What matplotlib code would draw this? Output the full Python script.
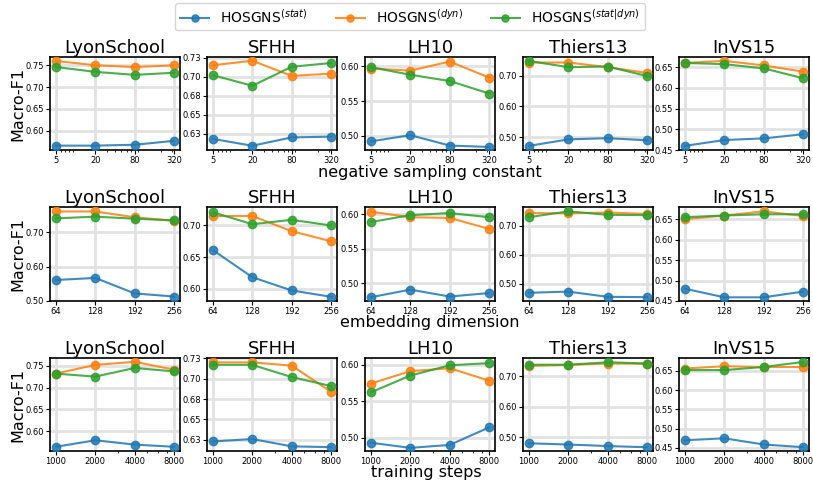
import numpy as np
import matplotlib
matplotlib.use('Agg')
import matplotlib.pyplot as plt
from matplotlib.ticker import NullFormatter

datasets = ['LyonSchool', 'SFHH', 'LH10', 'Thiers13', 'InVS15']
labels = [r'HOSGNS$^{(stat)}$', r'HOSGNS$^{(dyn)}$', r'HOSGNS$^{(stat|dyn)}$']
colors = ['#1f77b4', '#ff7f0e', '#2ca02c']

# x values for each experiment row
neg_samples = [5, 20, 80, 320]
emb_dims = [64, 128, 192, 256]
train_steps = [1000, 2000, 4000, 8000]
row_xlabels = ['negative sampling constant', 'embedding dimension', 'training steps']

# macro-F1, [stat, dyn, stat|dyn] per dataset
neg_f1 = {
  'LyonSchool': [[0.566, 0.566, 0.568, 0.577], [0.760, 0.750, 0.746, 0.750], [0.746, 0.735, 0.728, 0.733]],
  'SFHH':       [[0.618, 0.609, 0.620, 0.621], [0.715, 0.721, 0.701, 0.704], [0.702, 0.688, 0.713, 0.718]],
  'LH10':       [[0.492, 0.501, 0.486, 0.484], [0.597, 0.594, 0.607, 0.584], [0.599, 0.588, 0.579, 0.561]],
  'Thiers13':   [[0.472, 0.493, 0.497, 0.490], [0.743, 0.743, 0.728, 0.709], [0.748, 0.728, 0.730, 0.699]],
  'InVS15':     [[0.460, 0.474, 0.478, 0.488], [0.660, 0.665, 0.654, 0.639], [0.660, 0.657, 0.647, 0.623]],
}
emb_f1 = {
  'LyonSchool': [[0.561, 0.567, 0.522, 0.513], [0.760, 0.760, 0.743, 0.733], [0.740, 0.745, 0.739, 0.734]],
  'SFHH':       [[0.661, 0.618, 0.597, 0.587], [0.715, 0.715, 0.691, 0.675], [0.721, 0.702, 0.709, 0.700]],
  'LH10':       [[0.480, 0.491, 0.481, 0.486], [0.604, 0.596, 0.595, 0.579], [0.589, 0.599, 0.602, 0.596]],
  'Thiers13':   [[0.469, 0.473, 0.455, 0.454], [0.743, 0.742, 0.745, 0.740], [0.729, 0.749, 0.737, 0.736]],
  'InVS15':     [[0.480, 0.459, 0.459, 0.473], [0.650, 0.659, 0.669, 0.658], [0.655, 0.659, 0.662, 0.662]],
}
steps_f1 = {
  'LyonSchool': [[0.564, 0.579, 0.569, 0.564], [0.732, 0.752, 0.759, 0.741], [0.732, 0.725, 0.745, 0.737]],
  'SFHH':       [[0.623, 0.626, 0.617, 0.616], [0.720, 0.720, 0.716, 0.684], [0.717, 0.717, 0.702, 0.691]],
  'LH10':       [[0.493, 0.486, 0.490, 0.514], [0.574, 0.591, 0.595, 0.578], [0.562, 0.585, 0.599, 0.602]],
  'Thiers13':   [[0.481, 0.477, 0.472, 0.468], [0.734, 0.737, 0.742, 0.741], [0.738, 0.738, 0.746, 0.742]],
  'InVS15':     [[0.470, 0.475, 0.459, 0.452], [0.656, 0.662, 0.660, 0.660], [0.652, 0.652, 0.660, 0.673]],
}

# y ticks and limits per row / dataset
yticks = [
  [[0.60, 0.65, 0.70, 0.75], [0.625, 0.65, 0.675, 0.70, 0.725], [0.50, 0.55, 0.60], [0.5, 0.6, 0.7], [0.45, 0.5, 0.55, 0.6, 0.65]],
  [[0.5, 0.6, 0.7], [0.6, 0.65, 0.7], [0.50, 0.55, 0.60], [0.5, 0.6, 0.7], [0.45, 0.5, 0.55, 0.6, 0.65]],
  [[0.60, 0.65, 0.70, 0.75], [0.625, 0.65, 0.675, 0.70, 0.725], [0.50, 0.55, 0.60], [0.5, 0.6, 0.7], [0.45, 0.5, 0.55, 0.6, 0.65]],
]
ylims = [
  [(0.556, 0.769), (0.6034, 0.7259), (0.4796, 0.6136), (0.4585, 0.761), (0.45, 0.6743)],
  [(0.50, 0.773), (0.5803, 0.7293), (0.4745, 0.6108), (0.4407, 0.764), (0.45, 0.6798)],
  [(0.5543, 0.7678), (0.6113, 0.7254), (0.4817, 0.609), (0.4558, 0.76), (0.4421, 0.6833)],
]

W, H = 813, 484
fig = plt.figure(figsize=(W / 100, H / 100), dpi=100)

col_left = [50, 207, 365, 523, 679]
ax_w = 130
rows_tb = [(57, 150), (207, 301), (358, 451)]
xlabel_pos = [(430, 173), (430, 323), (426, 473)]

rows = [(neg_samples, neg_f1, True), (emb_dims, emb_f1, False), (train_steps, steps_f1, True)]

handles = None
for r, (xs, f1, logx) in enumerate(rows):
  top, bot = rows_tb[r]
  for c, name in enumerate(datasets):
    ax = fig.add_axes([col_left[c] / W, 1 - bot / H, ax_w / W, (bot - top) / H])
    hs = []
    for k in range(3):
      h, = ax.plot(xs, f1[name][k], '-o', color=colors[k], lw=1.5, ms=6, alpha=0.85,
                   label=labels[k], zorder=3)
      hs.append(h)
    handles = hs
    if logx:
      ax.set_xscale('log')
      ax.xaxis.set_minor_formatter(NullFormatter())
    ax.set_xticks(xs)
    ax.set_xticklabels([str(x) for x in xs])
    if logx:
      ax.set_xlim(xs[0] / (xs[-1] / xs[0]) ** 0.05, xs[-1] * (xs[-1] / xs[0]) ** 0.05)
    ax.set_yticks(yticks[r][c])
    ax.set_yticklabels(['%.2f' % (t + 1e-9) for t in yticks[r][c]])
    ax.set_ylim(*ylims[r][c])
    # double grid look from the original
    ax.grid(True, which='major', color='#e2e2e2', lw=2.0, zorder=0)
    for x in xs:
      ax.axvline(x, color='#b4b4b4', lw=0.7, zorder=1)
    for y in yticks[r][c]:
      ax.axhline(y, color='#b4b4b4', lw=0.7, zorder=1)
    ax.tick_params(labelsize=6, length=3, width=0.8, pad=1.5)
    ax.tick_params(which='minor', length=1.5, width=0.6)
    for s in ax.spines.values():
      s.set_linewidth(1.2)
    ax.set_title(name, fontsize=13, pad=3)
  fig.text(xlabel_pos[r][0] / W, 1 - xlabel_pos[r][1] / H, row_xlabels[r],
           ha='center', va='center', fontsize=11.5)
  fig.text(18 / W, 1 - (top + bot) / 2 / H, 'Macro-F1', rotation=90,
           ha='center', va='center', fontsize=11.5)

fig.legend(handles, labels, loc='upper center', bbox_to_anchor=(410 / W, 1.0),
           ncol=3, fontsize=10, columnspacing=2.0, handlelength=2.1, markerscale=0.85,
           borderpad=0.35, handletextpad=0.8, borderaxespad=0.2)

fig.savefig('out.png', dpi=100)
